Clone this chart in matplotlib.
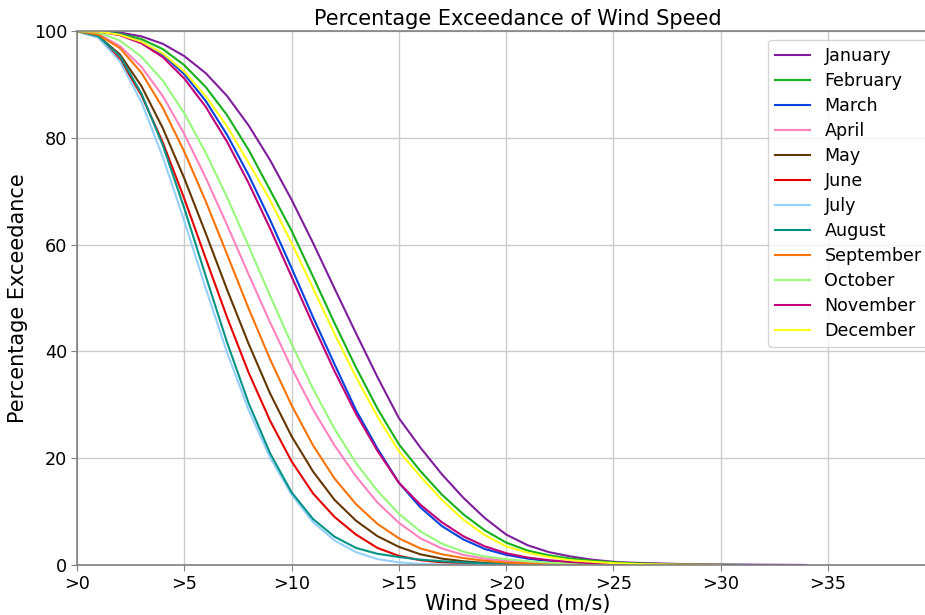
import matplotlib
matplotlib.use('Agg')
import matplotlib.pyplot as plt

# wind speed bins (m/s), shared by every month
speed = list(range(0, 35))

months = ['January', 'February', 'March', 'April', 'May', 'June',
          'July', 'August', 'September', 'October', 'November', 'December']
colours = ['xkcd:purple', 'xkcd:green', 'xkcd:blue', 'xkcd:pink', 'xkcd:brown', 'xkcd:red',
           'xkcd:light blue', 'xkcd:teal', 'xkcd:orange', 'xkcd:light green', 'xkcd:magenta', 'xkcd:yellow']

# percentage of time the speed is exceeded
jan = [100, 100.0, 99.7, 99.0, 97.6, 95.3, 92.1, 87.8, 82.3, 75.8, 68.4, 60.3, 51.8, 43.4, 35.2,
       27.5, 22.0, 17.0, 12.6, 8.8, 5.7, 3.7, 2.4, 1.6, 1.0, 0.6, 0.4, 0.3, 0.2, 0.15, 0.1, 0.08,
       0.05, 0.03, 0.0]
feb = [100, 99.9, 99.5, 98.5, 96.6, 93.6, 89.5, 84.2, 77.7, 70.2, 62.6, 54.0, 45.3, 37.0, 29.3,
       22.6, 17.6, 13.2, 9.5, 6.5, 4.2, 2.7, 1.8, 1.2, 0.8, 0.5, 0.3, 0.2, 0.1, 0.05, 0.02, 0.0]
mar = [100, 99.9, 99.4, 98.0, 95.6, 91.9, 86.9, 80.5, 73.0, 64.6, 55.6, 46.4, 37.6, 29.0, 21.8,
       15.4, 10.8, 7.3, 4.8, 3.0, 1.9, 1.2, 0.7, 0.4, 0.25, 0.15, 0.08, 0.03, 0.0]
apr = [100, 99.4, 97.2, 93.3, 87.8, 80.7, 72.5, 63.6, 54.4, 45.4, 36.9, 29.1, 22.4, 16.6, 11.7,
       7.9, 5.0, 3.1, 1.9, 1.2, 0.8, 0.5, 0.3, 0.2, 0.1, 0.05, 0.0]
may = [100, 99.0, 95.6, 89.7, 81.8, 72.4, 62.1, 51.5, 41.4, 32.1, 24.1, 17.5, 12.2, 8.3, 5.4,
       3.4, 2.0, 1.2, 0.7, 0.4, 0.2, 0.1, 0.05, 0.02, 0.0]
jun = [100, 98.8, 94.7, 88.0, 79.1, 68.6, 57.4, 46.3, 36.0, 27.0, 19.4, 13.4, 9.0, 5.7, 3.2,
       1.7, 0.9, 0.5, 0.25, 0.1, 0.05, 0.02, 0.0]
jul = [100, 98.7, 94.3, 86.7, 76.4, 64.4, 51.8, 39.7, 29.0, 20.1, 13.2, 8.0, 4.6, 2.4, 1.1,
       0.5, 0.2, 0.1, 0.05, 0.02, 0.01, 0.0]
aug = [100, 99.0, 95.3, 88.3, 78.6, 66.8, 54.1, 41.6, 30.3, 20.9, 13.6, 8.6, 5.3, 3.2, 2.1,
       1.5, 1.0, 0.7, 0.5, 0.3, 0.2, 0.1, 0.05, 0.02, 0.0]
sep = [100, 99.3, 96.8, 92.2, 85.6, 77.4, 68.1, 58.1, 48.0, 38.5, 29.9, 22.4, 16.2, 11.4, 7.7,
       5.0, 3.1, 2.0, 1.3, 0.8, 0.45, 0.3, 0.2, 0.1, 0.06, 0.03, 0.01, 0.0]
oct_ = [100, 99.7, 98.2, 95.2, 90.7, 84.6, 77.2, 68.8, 59.7, 50.4, 41.4, 33.0, 25.5, 19.1, 13.9,
        9.6, 6.3, 4.0, 2.5, 1.6, 1.1, 0.7, 0.45, 0.3, 0.2, 0.1, 0.05, 0.0]
nov = [100, 99.9, 99.2, 97.7, 95.1, 91.1, 85.8, 79.2, 71.5, 63.0, 54.0, 45.0, 36.3, 28.3, 21.4,
       15.4, 11.3, 8.0, 5.4, 3.5, 2.2, 1.4, 0.9, 0.55, 0.35, 0.2, 0.12, 0.06, 0.03, 0.0]
dec = [100, 99.9, 99.3, 98.0, 95.8, 92.4, 87.8, 82.1, 75.3, 68.3, 60.3, 51.8, 43.3, 35.2, 27.8,
       21.3, 16.6, 12.2, 8.5, 5.6, 3.5, 2.3, 1.5, 0.9, 0.6, 0.35, 0.2, 0.12, 0.06, 0.03, 0.0]

series = [jan, feb, mar, apr, may, jun, jul, aug, sep, oct_, nov, dec]

xticks = [0, 5, 10, 15, 20, 25, 30, 35]
xticklabels = ['>0', '>5', '>10', '>15', '>20', '>25', '>30', '>35']
yticks = [0, 20, 40, 60, 80, 100]

fig = plt.figure(figsize=(9.25, 6.15), dpi=100)
# axes runs a little past the right edge of the picture, as in the original
ax = fig.add_axes([77 / 925, 50 / 615, 882 / 925, 534 / 615])

for name, vals, col in zip(months, series, colours):
    ax.plot(speed[:len(vals)], vals, color=col, label=name, lw=1.5)

ax.set_xlim(0, 41.1)
ax.set_ylim(0, 100)
ax.set_xticks(xticks)
ax.set_xticklabels(xticklabels)
ax.set_yticks(yticks)
ax.tick_params(labelsize=12.7, color='#808080', length=4, pad=3)
ax.grid(True, color='#cccccc', lw=1)
for sp in ax.spines.values():
    sp.set_color('#808080')
    sp.set_linewidth(1.2)

ax.set_title('Percentage Exceedance of Wind Speed', fontsize=15, pad=4)
ax.set_xlabel('Wind Speed (m/s)', fontsize=15, labelpad=1)
ax.set_ylabel('Percentage Exceedance', fontsize=15)
ax.legend(loc='upper right', bbox_to_anchor=(0.9755, 1.0), fontsize=12.6, labelspacing=0.4)

fig.savefig('out.png', dpi=100)
